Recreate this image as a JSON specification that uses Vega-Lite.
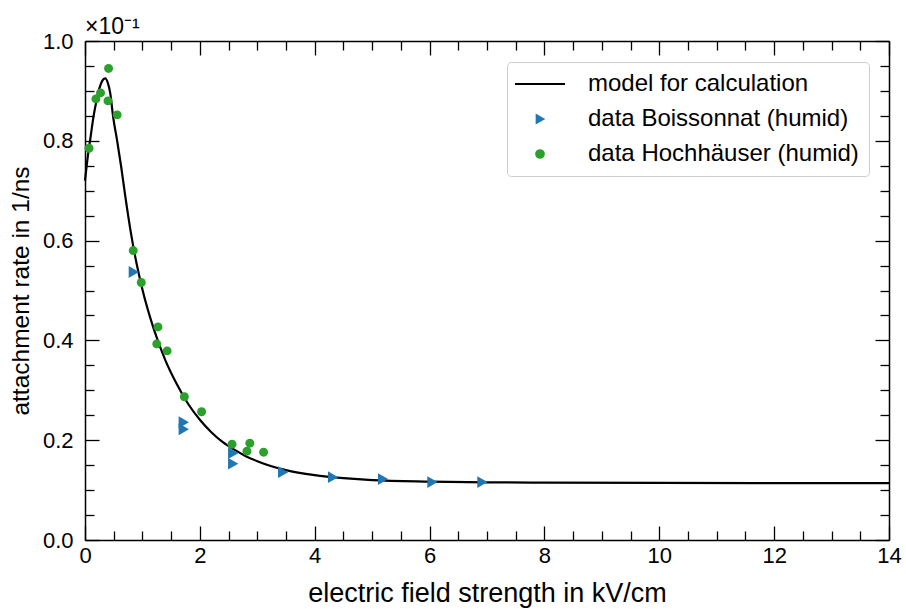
{
  "$schema": "https://vega.github.io/schema/vega-lite/v6.json",
  "width": 804,
  "height": 499,
  "autosize": {"type": "none"},
  "padding": {"left": 85, "top": 41, "right": 17, "bottom": 69},
  "background": "white",
  "config": {
    "font": "Liberation Sans",
    "view": {"stroke": null},
    "axis": {
      "grid": false,
      "domainColor": "black",
      "tickColor": "black",
      "labelColor": "black",
      "titleColor": "black",
      "domainWidth": 1.5,
      "tickWidth": 1.3,
      "labelFontSize": 22,
      "titleFontSize": 26,
      "titleFontWeight": "normal",
      "labelFont": "Liberation Sans",
      "titleFont": "Liberation Sans",
      "labelFlush": false
    }
  },
  "title": {
    "text": "×10⁻¹",
    "anchor": "start",
    "frame": "group",
    "fontSize": 23,
    "fontWeight": "normal",
    "font": "Liberation Sans",
    "color": "black",
    "offset": -9
  },
  "datasets": {
    "model": [
      {"series": "model for calculation", "E": 0, "rate": 0.72},
      {"series": "model for calculation", "E": 0.05, "rate": 0.77},
      {"series": "model for calculation", "E": 0.1, "rate": 0.81},
      {"series": "model for calculation", "E": 0.15, "rate": 0.85},
      {"series": "model for calculation", "E": 0.2, "rate": 0.88},
      {"series": "model for calculation", "E": 0.25, "rate": 0.905},
      {"series": "model for calculation", "E": 0.3, "rate": 0.92},
      {"series": "model for calculation", "E": 0.35, "rate": 0.925},
      {"series": "model for calculation", "E": 0.4, "rate": 0.915},
      {"series": "model for calculation", "E": 0.44, "rate": 0.895},
      {"series": "model for calculation", "E": 0.49, "rate": 0.848},
      {"series": "model for calculation", "E": 0.56, "rate": 0.8},
      {"series": "model for calculation", "E": 0.63, "rate": 0.748},
      {"series": "model for calculation", "E": 0.7, "rate": 0.69},
      {"series": "model for calculation", "E": 0.8, "rate": 0.615},
      {"series": "model for calculation", "E": 0.9, "rate": 0.553},
      {"series": "model for calculation", "E": 1.0, "rate": 0.502},
      {"series": "model for calculation", "E": 1.2, "rate": 0.422},
      {"series": "model for calculation", "E": 1.4, "rate": 0.36},
      {"series": "model for calculation", "E": 1.6, "rate": 0.312},
      {"series": "model for calculation", "E": 1.8, "rate": 0.272},
      {"series": "model for calculation", "E": 2.0, "rate": 0.241},
      {"series": "model for calculation", "E": 2.2, "rate": 0.216},
      {"series": "model for calculation", "E": 2.4, "rate": 0.196},
      {"series": "model for calculation", "E": 2.6, "rate": 0.181},
      {"series": "model for calculation", "E": 2.8, "rate": 0.168},
      {"series": "model for calculation", "E": 3.0, "rate": 0.158},
      {"series": "model for calculation", "E": 3.5, "rate": 0.14},
      {"series": "model for calculation", "E": 4.0, "rate": 0.13},
      {"series": "model for calculation", "E": 4.5, "rate": 0.124},
      {"series": "model for calculation", "E": 5.0, "rate": 0.12},
      {"series": "model for calculation", "E": 6.0, "rate": 0.117},
      {"series": "model for calculation", "E": 7.0, "rate": 0.1155},
      {"series": "model for calculation", "E": 8.0, "rate": 0.115},
      {"series": "model for calculation", "E": 10.0, "rate": 0.1145},
      {"series": "model for calculation", "E": 12.0, "rate": 0.114},
      {"series": "model for calculation", "E": 14.0, "rate": 0.114}
    ],
    "boiss": [
      {"series": "data Boissonnat (humid)", "E": 0.85, "rate": 0.537},
      {"series": "data Boissonnat (humid)", "E": 1.72, "rate": 0.236},
      {"series": "data Boissonnat (humid)", "E": 1.72, "rate": 0.222},
      {"series": "data Boissonnat (humid)", "E": 2.58, "rate": 0.174},
      {"series": "data Boissonnat (humid)", "E": 2.58, "rate": 0.153},
      {"series": "data Boissonnat (humid)", "E": 3.45, "rate": 0.136},
      {"series": "data Boissonnat (humid)", "E": 4.32, "rate": 0.126},
      {"series": "data Boissonnat (humid)", "E": 5.19, "rate": 0.122},
      {"series": "data Boissonnat (humid)", "E": 6.05, "rate": 0.116},
      {"series": "data Boissonnat (humid)", "E": 6.92, "rate": 0.116}
    ],
    "hoch": [
      {"series": "data Hochhäuser (humid)", "E": 0.07, "rate": 0.785},
      {"series": "data Hochhäuser (humid)", "E": 0.19, "rate": 0.884},
      {"series": "data Hochhäuser (humid)", "E": 0.27, "rate": 0.896},
      {"series": "data Hochhäuser (humid)", "E": 0.41, "rate": 0.945},
      {"series": "data Hochhäuser (humid)", "E": 0.4, "rate": 0.88},
      {"series": "data Hochhäuser (humid)", "E": 0.56, "rate": 0.852},
      {"series": "data Hochhäuser (humid)", "E": 0.84, "rate": 0.58},
      {"series": "data Hochhäuser (humid)", "E": 0.98, "rate": 0.516},
      {"series": "data Hochhäuser (humid)", "E": 1.27, "rate": 0.427},
      {"series": "data Hochhäuser (humid)", "E": 1.25, "rate": 0.393},
      {"series": "data Hochhäuser (humid)", "E": 1.43, "rate": 0.379},
      {"series": "data Hochhäuser (humid)", "E": 1.73, "rate": 0.287},
      {"series": "data Hochhäuser (humid)", "E": 2.03, "rate": 0.257},
      {"series": "data Hochhäuser (humid)", "E": 2.56, "rate": 0.192},
      {"series": "data Hochhäuser (humid)", "E": 2.87, "rate": 0.194},
      {"series": "data Hochhäuser (humid)", "E": 2.82, "rate": 0.178},
      {"series": "data Hochhäuser (humid)", "E": 3.11, "rate": 0.176}
    ]
  },
  "resolve": {"axis": {"x": "independent", "y": "independent"}},
  "layer": [
    {
      "data": {"name": "model"},
      "mark": {"type": "line", "strokeWidth": 2.2, "interpolate": "monotone"},
      "encoding": {
        "x": {"field": "E", "type": "quantitative", "scale": {"domain": [0, 14], "nice": false},
          "axis": {"orient": "bottom", "values": [0, 2, 4, 6, 8, 10, 12, 14], "format": "d", "tickSize": -14, "labelPadding": 19,
            "title": "electric field strength in kV/cm", "titlePadding": 14, "titleFontSize": 27}},
        "y": {"field": "rate", "type": "quantitative", "scale": {"domain": [0, 1], "nice": false},
          "axis": {"orient": "left", "values": [0, 0.2, 0.4, 0.6, 0.8, 1.0], "format": ".1f", "tickSize": -14, "labelPadding": 26,
            "title": "attachment rate in 1/ns", "titlePadding": 9, "titleFontSize": 24.5}},
        "color": {"field": "series", "type": "nominal",
          "scale": {"domain": ["model for calculation", "data Boissonnat (humid)", "data Hochhäuser (humid)"], "range": ["black", "#1f77b4", "#2ca02c"]},
          "legend": {"title": null, "orient": "none", "legendX": 422, "legendY": 21, "labelFontSize": 24, "labelFont": "Liberation Sans", "labelColor": "black", "labelLimit": 500,
            "strokeColor": "#cccccc", "cornerRadius": 4, "padding": 10, "rowPadding": 11, "labelOffset": 36, "symbolOffset": 11, "symbolStrokeWidth": 2,
            "encoding": {"symbols": {"size": {"value": {"expr": "datum.value === 'model for calculation' ? 2500 : 60"}}}}}
        },
        "shape": {"field": "series", "type": "nominal",
          "scale": {"domain": ["model for calculation", "data Boissonnat (humid)", "data Hochhäuser (humid)"], "range": ["stroke", "triangle-right", "circle"]}}
      }
    },
    {
      "data": {"name": "boiss"},
      "mark": {"type": "point", "filled": true, "opacity": 1, "size": 140},
      "encoding": {
        "x": {"field": "E", "type": "quantitative", "scale": {"domain": [0, 14], "nice": false},
          "axis": {"orient": "top", "values": [0, 2, 4, 6, 8, 10, 12, 14], "tickSize": -14, "labels": false, "title": null}},
        "y": {"field": "rate", "type": "quantitative", "scale": {"domain": [0, 1], "nice": false},
          "axis": {"orient": "right", "values": [0, 0.2, 0.4, 0.6, 0.8, 1.0], "tickSize": -14, "labels": false, "title": null}},
        "color": {"field": "series", "type": "nominal"},
        "shape": {"field": "series", "type": "nominal"}
      }
    },
    {
      "data": {"name": "hoch"},
      "mark": {"type": "point", "filled": true, "opacity": 1, "size": 80},
      "encoding": {
        "x": {"field": "E", "type": "quantitative", "scale": {"domain": [0, 14], "nice": false},
          "axis": {"orient": "bottom", "values": [0.5, 1, 1.5, 2.5, 3, 3.5, 4.5, 5, 5.5, 6.5, 7, 7.5, 8.5, 9, 9.5, 10.5, 11, 11.5, 12.5, 13, 13.5], "tickSize": -9, "labels": false, "domain": false, "title": null}},
        "y": {"field": "rate", "type": "quantitative", "scale": {"domain": [0, 1], "nice": false},
          "axis": {"orient": "left", "values": [0.05, 0.1, 0.15, 0.25, 0.3, 0.35, 0.45, 0.5, 0.55, 0.65, 0.7, 0.75, 0.85, 0.9, 0.95], "tickSize": -9, "labels": false, "domain": false, "title": null}},
        "color": {"field": "series", "type": "nominal"},
        "shape": {"field": "series", "type": "nominal"}
      }
    },
    {
      "data": {"name": "model"},
      "mark": {"type": "point", "opacity": 0},
      "encoding": {
        "x": {"field": "E", "type": "quantitative", "scale": {"domain": [0, 14], "nice": false},
          "axis": {"orient": "top", "values": [0.5, 1, 1.5, 2.5, 3, 3.5, 4.5, 5, 5.5, 6.5, 7, 7.5, 8.5, 9, 9.5, 10.5, 11, 11.5, 12.5, 13, 13.5], "tickSize": -9, "labels": false, "domain": false, "title": null}},
        "y": {"field": "rate", "type": "quantitative", "scale": {"domain": [0, 1], "nice": false},
          "axis": {"orient": "right", "values": [0.05, 0.1, 0.15, 0.25, 0.3, 0.35, 0.45, 0.5, 0.55, 0.65, 0.7, 0.75, 0.85, 0.9, 0.95], "tickSize": -9, "labels": false, "domain": false, "title": null}}
      }
    }
  ]
}
